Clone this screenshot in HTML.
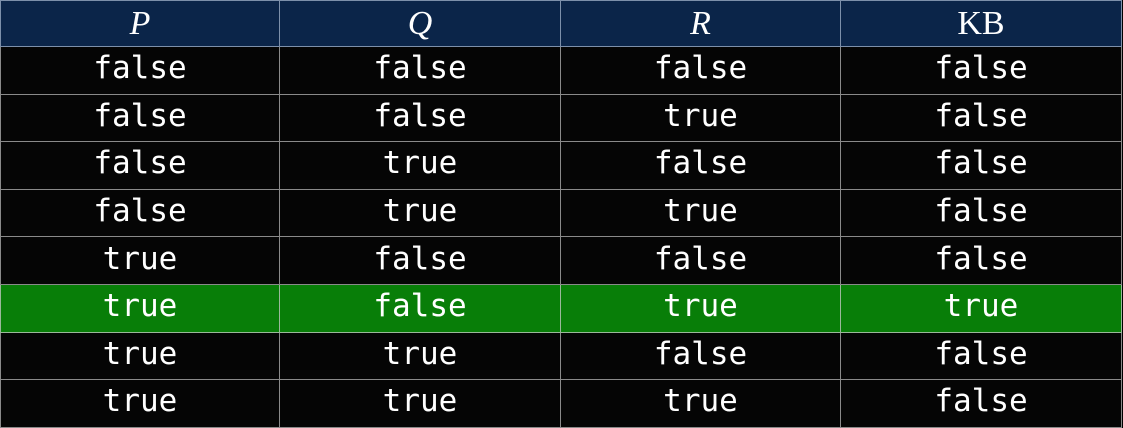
<!DOCTYPE html>
<html><head><style>
html,body{margin:0;padding:0;background:#000;width:1123px;height:428px;overflow:hidden}
table{position:absolute;left:0;top:0;border-collapse:collapse;width:1121px;table-layout:fixed}
td,th{border:1px solid #8a8a8a;text-align:center;padding:0;color:#fff;overflow:hidden}
th{height:45px;background:#0b2549;font-family:"Liberation Serif",serif;font-weight:normal;font-size:34px;border-color:#7d90aa;line-height:40px}
th i{font-style:italic}
td{height:46.6px;background:#050505;font-family:"DejaVu Sans Mono","Liberation Mono",monospace;font-size:31px;line-height:36px;vertical-align:middle}
td div{height:46px;line-height:42px}
tr.g td{background:#087e08;border-color:#9ab89a}
</style></head><body>
<table>
<colgroup><col style="width:279px"><col style="width:281px"><col style="width:280px"><col style="width:281px"></colgroup>
<tr><th><i>P</i></th><th><i>Q</i></th><th><i>R</i></th><th>KB</th></tr>
<tr><td><div>false</div></td><td><div>false</div></td><td><div>false</div></td><td><div>false</div></td></tr>
<tr><td><div>false</div></td><td><div>false</div></td><td><div>true</div></td><td><div>false</div></td></tr>
<tr><td><div>false</div></td><td><div>true</div></td><td><div>false</div></td><td><div>false</div></td></tr>
<tr><td><div>false</div></td><td><div>true</div></td><td><div>true</div></td><td><div>false</div></td></tr>
<tr><td><div>true</div></td><td><div>false</div></td><td><div>false</div></td><td><div>false</div></td></tr>
<tr class="g"><td><div>true</div></td><td><div>false</div></td><td><div>true</div></td><td><div>true</div></td></tr>
<tr><td><div>true</div></td><td><div>true</div></td><td><div>false</div></td><td><div>false</div></td></tr>
<tr><td><div>true</div></td><td><div>true</div></td><td><div>true</div></td><td><div>false</div></td></tr>
</table>
</body></html>
